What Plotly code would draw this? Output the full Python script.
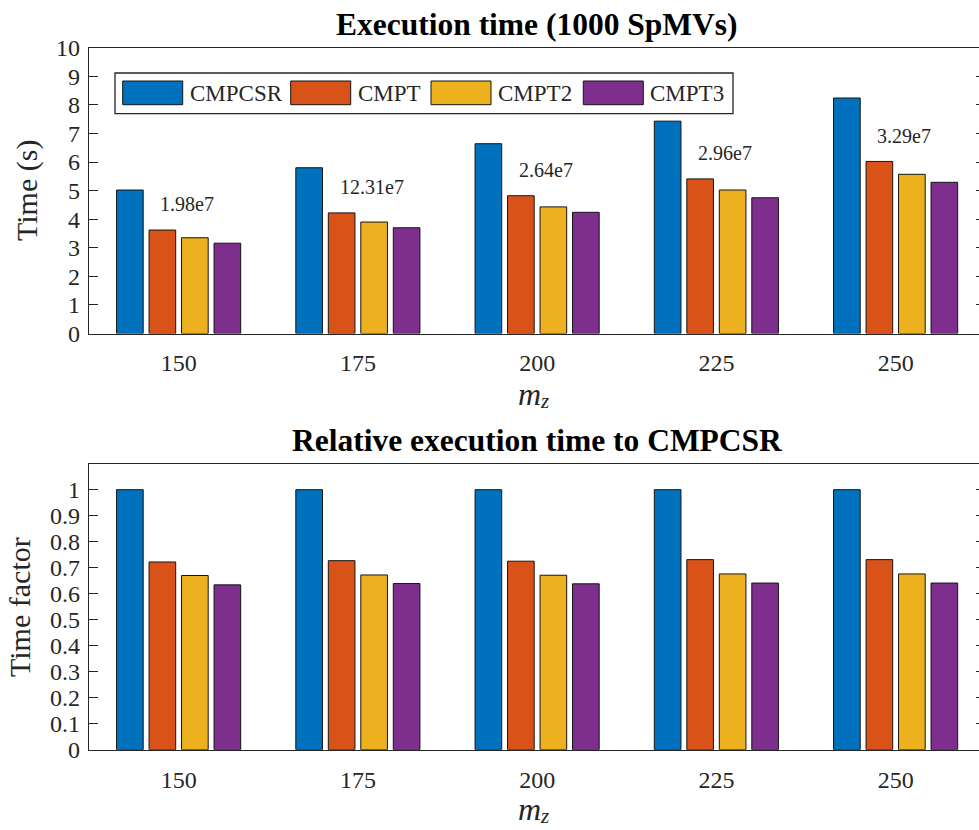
import plotly.graph_objects as go

# ---- data ----
mz = [150, 175, 200, 225, 250]
series_names = ["CMPCSR", "CMPT", "CMPT2", "CMPT3"]

time_cmpcsr = [5.02, 5.80, 6.64, 7.43, 8.24]
time_cmpt = [3.62, 4.22, 4.82, 5.41, 6.02]
time_cmpt2 = [3.35, 3.90, 4.43, 5.02, 5.57]
time_cmpt3 = [3.16, 3.70, 4.24, 4.75, 5.29]

rel_cmpcsr = [1.0, 1.0, 1.0, 1.0, 1.0]
rel_cmpt = [0.722, 0.727, 0.725, 0.731, 0.731]
rel_cmpt2 = [0.670, 0.672, 0.671, 0.676, 0.676]
rel_cmpt3 = [0.634, 0.639, 0.638, 0.641, 0.641]

nnz_labels = ["1.98e7", "12.31e7", "2.64e7", "2.96e7", "3.29e7"]

# ---- style ----
W, H = 979, 830
colors = ["#0072BD", "#D95319", "#EDB120", "#7E2F8E"]
FONT = "Liberation Serif"
AX = "#262626"


def px(x):
    return x / W


def py(y):
    return 1 - y / H


fig = go.Figure()

top_sets = [time_cmpcsr, time_cmpt, time_cmpt2, time_cmpt3]
bot_sets = [rel_cmpcsr, rel_cmpt, rel_cmpt2, rel_cmpt3]
for name, col, ys in zip(series_names, colors, top_sets):
    fig.add_trace(go.Bar(x=mz, y=ys, name=name, marker=dict(color=col, line=dict(color="#141414", width=1)),
                         xaxis="x", yaxis="y", showlegend=False))
for name, col, ys in zip(series_names, colors, bot_sets):
    fig.add_trace(go.Bar(x=mz, y=ys, name=name, marker=dict(color=col, line=dict(color="#141414", width=1)),
                         xaxis="x2", yaxis="y2", showlegend=False))

# carriers for the right-hand tick marks
fig.add_trace(go.Scatter(x=[mz[0]], y=[0], xaxis="x", yaxis="y3", mode="markers",
                         marker=dict(opacity=0), hoverinfo="skip", showlegend=False))
fig.add_trace(go.Scatter(x=[mz[0]], y=[0], xaxis="x2", yaxis="y4", mode="markers",
                         marker=dict(opacity=0), hoverinfo="skip", showlegend=False))

x_left = px(89)
step = 25.0
spacing_px = 179.25
x_lo = mz[0] - step / 2
x_hi = x_lo + (W - 89) / spacing_px * step

tickfont = dict(family=FONT, size=24, color=AX)
xcommon = dict(range=[x_lo, x_hi], tickvals=mz, ticktext=[str(v) for v in mz], showline=True,
               linecolor=AX, linewidth=1.3, mirror=True, ticks="", showgrid=False, zeroline=False,
               tickfont=tickfont, ticklabelstandoff=8, domain=[x_left, 1.0], automargin=False)
ycommon = dict(showline=True, linecolor=AX, linewidth=1.3, mirror=False, ticks="inside", ticklen=9,
               tickcolor=AX, tickwidth=1.2, showgrid=False, zeroline=False, tickfont=tickfont,
               ticklabelstandoff=3, automargin=False)
rcommon = dict(side="right", ticks="inside", ticklen=3, tickcolor=AX, tickwidth=1.2, showticklabels=False,
               showline=False, showgrid=False, zeroline=False, automargin=False)

top_dom = [py(333.5), py(47.7)]
bot_dom = [py(749.7), py(463.7)]

fig.update_layout(
    width=W, height=H, margin=dict(l=0, r=0, t=0, b=0, pad=0, autoexpand=False),
    paper_bgcolor="white", plot_bgcolor="white",
    barmode="group", bargap=0.275, bargroupgap=0.18,
    font=dict(family=FONT, color=AX),
    xaxis=dict(anchor="y", **xcommon),
    xaxis2=dict(anchor="y2", **xcommon),
    yaxis=dict(anchor="x", domain=top_dom, range=[0, 10], dtick=1, tick0=0, **ycommon),
    yaxis2=dict(anchor="x2", domain=bot_dom, range=[0, 1.1], tickvals=[i / 10 for i in range(11)],
                ticktext=["0"] + ["0.%d" % i for i in range(1, 10)] + ["1"], **ycommon),
    yaxis3=dict(overlaying="y", anchor="x", range=[0, 10], dtick=1, tick0=0, **rcommon),
    yaxis4=dict(overlaying="y2", anchor="x2", range=[0, 1.1], dtick=0.1, tick0=0, **rcommon),
)

ann = []
# titles
ann.append(dict(text="<b>Execution time (1000 SpMVs)</b>", x=px(537), y=py(24), xref="paper", yref="paper",
                showarrow=False, font=dict(family=FONT, size=31.5, color="black"), xanchor="center", yanchor="middle"))
ann.append(dict(text="<b>Relative execution time to CMPCSR</b>", x=px(537), y=py(440), xref="paper", yref="paper",
                showarrow=False, font=dict(family=FONT, size=31.5, color="black"), xanchor="center", yanchor="middle"))
# axis titles
ann.append(dict(text="Time (s)", x=px(27), y=py(191), xref="paper", yref="paper", textangle=-90,
                showarrow=False, font=dict(family=FONT, size=30, color=AX), xanchor="center", yanchor="middle"))
ann.append(dict(text="Time factor", x=px(19), y=py(607), xref="paper", yref="paper", textangle=-90,
                showarrow=False, font=dict(family=FONT, size=30, color=AX), xanchor="center", yanchor="middle"))
# m_z axis labels: italic m with a smaller italic z subscript
for ybot in (414, 829):
    ann.append(dict(text="<i>m</i>", x=px(543), y=py(ybot), xref="paper", yref="paper", showarrow=False,
                    font=dict(family=FONT, size=32, color=AX), xanchor="right", yanchor="bottom"))
    ann.append(dict(text="<i>z</i>", x=px(538), y=py(ybot + 1), xref="paper", yref="paper", showarrow=False,
                    font=dict(family=FONT, size=21, color=AX), xanchor="left", yanchor="bottom"))

# nnz notes above each group
for xv, lab, base in zip(mz, nnz_labels, time_cmpt):
    ann.append(dict(text=lab, x=xv - 0.113 * step, y=base + 0.9, xref="x", yref="y", showarrow=False,
                    xanchor="left", yanchor="middle", font=dict(family=FONT, size=20, color=AX)))

# legend drawn as a box of wide swatches
shapes = [dict(type="rect", xref="paper", yref="paper", x0=px(115), x1=px(733), y0=py(113.7), y1=py(73),
               line=dict(color=AX, width=1.3), fillcolor="white", layer="above")]
sw_x = [122.7, 290.7, 431, 583.3]
for name, col, sx in zip(series_names, colors, sw_x):
    shapes.append(dict(type="rect", xref="paper", yref="paper", x0=px(sx), x1=px(sx + 60), y0=py(104.7), y1=py(81),
                       line=dict(color="#141414", width=1), fillcolor=col, layer="above"))
    ann.append(dict(text=name, x=px(sx + 65), y=py(93), xref="paper", yref="paper", showarrow=False,
                    xanchor="left", yanchor="middle", font=dict(family=FONT, size=23, color=AX)))

fig.update_layout(annotations=ann, shapes=shapes)
fig.write_html("out.html")
